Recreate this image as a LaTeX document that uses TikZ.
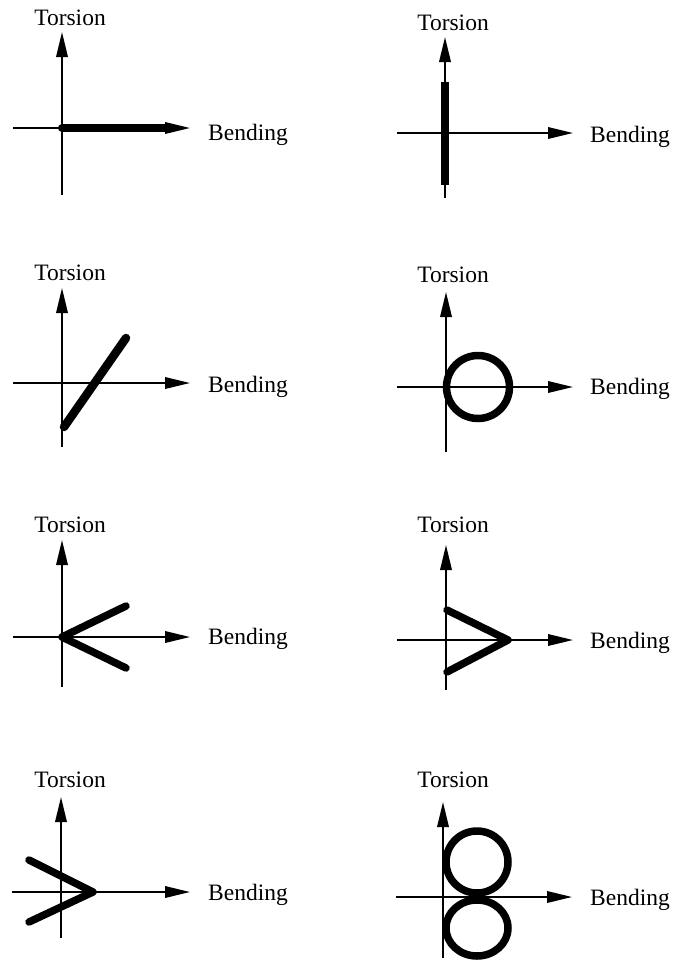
\documentclass[tikz,border=0pt]{standalone}
\usepackage{fontspec}
\setmainfont{Liberation Serif}
\usetikzlibrary{arrows.meta}
\tikzset{
  axisline/.style={line width=1.9pt, -{Triangle[length=25pt,width=11.5pt]}},
  heavy/.style={line width=7.5pt},
  lbl/.style={font=\fontsize{23.5}{27}\selectfont, inner sep=0pt},
}
% #1 name, #2 x-left, #3 x-tip, #4 y-axis, #5 x-vert, #6 y-top, #7 y-bottom
\newcommand\mkaxes[7]{%
  \coordinate (#1l) at (#2,#4);
  \coordinate (#1r) at (#3,#4);
  \coordinate (#1t) at (#5,#6);
  \coordinate (#1b) at (#5,#7);
  \coordinate (#1o) at (#5,#4);
  \draw[axisline] (#1l) -- (#1r);
  \draw[axisline] (#1b) -- (#1t);
}
\begin{document}
\begin{tikzpicture}[x=1pt,y=-1pt]
\useasboundingbox (0,0) rectangle (678,962);

% Panel 1
\mkaxes{p1}{13}{190}{128}{62}{32}{195}
\node[lbl,anchor=base] (t1) at (70,25) {Torsion};
\node[lbl,anchor=base west] (b1) at (208,140) {Bending};
\coordinate (p1e) at (165,128);
\draw[heavy] (p1o) -- (p1e);
\fill (p1o) circle (4pt);

% Panel 2
\mkaxes{p2}{397}{573}{133}{445}{37}{198}
\node[lbl,anchor=base] (t2) at (453,30) {Torsion};
\node[lbl,anchor=base west] (b2) at (590,142) {Bending};
\coordinate (p2a) at (445,82);
\coordinate (p2c) at (445,185);
\draw[heavy] (p2a) -- (p2c);

% Panel 3
\mkaxes{p3}{13}{190}{383}{62}{288}{447}
\node[lbl,anchor=base] (t3) at (70,280) {Torsion};
\node[lbl,anchor=base west] (b3) at (208,392) {Bending};
\coordinate (p3a) at (64,427);
\coordinate (p3c) at (126,338);
\draw[heavy,line width=8.5pt,line cap=round] (p3a) -- (p3c);

% Panel 4
\mkaxes{p4}{397}{573}{387}{446}{292}{452}
\node[lbl,anchor=base] (t4) at (453,282) {Torsion};
\node[lbl,anchor=base west] (b4) at (590,394) {Bending};
\coordinate (p4c) at (478,387);
\draw[heavy] (p4c) circle (31.5pt);

% Panel 5
\mkaxes{p5}{13}{190}{637}{62}{540}{687}
\node[lbl,anchor=base] (t5) at (70,532) {Torsion};
\node[lbl,anchor=base west] (b5) at (208,644) {Bending};
\coordinate (p5u) at (126,606);
\coordinate (p5d) at (126,668);
\draw[heavy,line cap=round,line join=round] (p5u) -- (p5o) -- (p5d);

% Panel 6
\mkaxes{p6}{397}{573}{640}{446}{545}{690}
\node[lbl,anchor=base] (t6) at (453,532) {Torsion};
\node[lbl,anchor=base west] (b6) at (590,648) {Bending};
\coordinate (p6u) at (447,610);
\coordinate (p6v) at (508,640);
\coordinate (p6d) at (447,672);
\draw[heavy,line cap=round,line join=round] (p6u) -- (p6v) -- (p6d);

% Panel 7
\mkaxes{p7}{12}{190}{892}{61}{797}{938}
\node[lbl,anchor=base] (t7) at (70,787) {Torsion};
\node[lbl,anchor=base west] (b7) at (208,900) {Bending};
\coordinate (p7u) at (29,860);
\coordinate (p7v) at (93,892);
\coordinate (p7d) at (29,922);
\draw[heavy,line cap=round,line join=round] (p7u) -- (p7v) -- (p7d);

% Panel 8
\mkaxes{p8}{396}{572}{897}{443}{802}{958}
\node[lbl,anchor=base] (t8) at (453,787) {Torsion};
\node[lbl,anchor=base west] (b8) at (590,905) {Bending};
\coordinate (p8c) at (477,862);
\coordinate (p8d) at (477,928);
\draw[heavy] (p8c) circle (31pt);
\draw[heavy] (p8d) ellipse [x radius=31pt, y radius=28pt];
\end{tikzpicture}
\end{document}
